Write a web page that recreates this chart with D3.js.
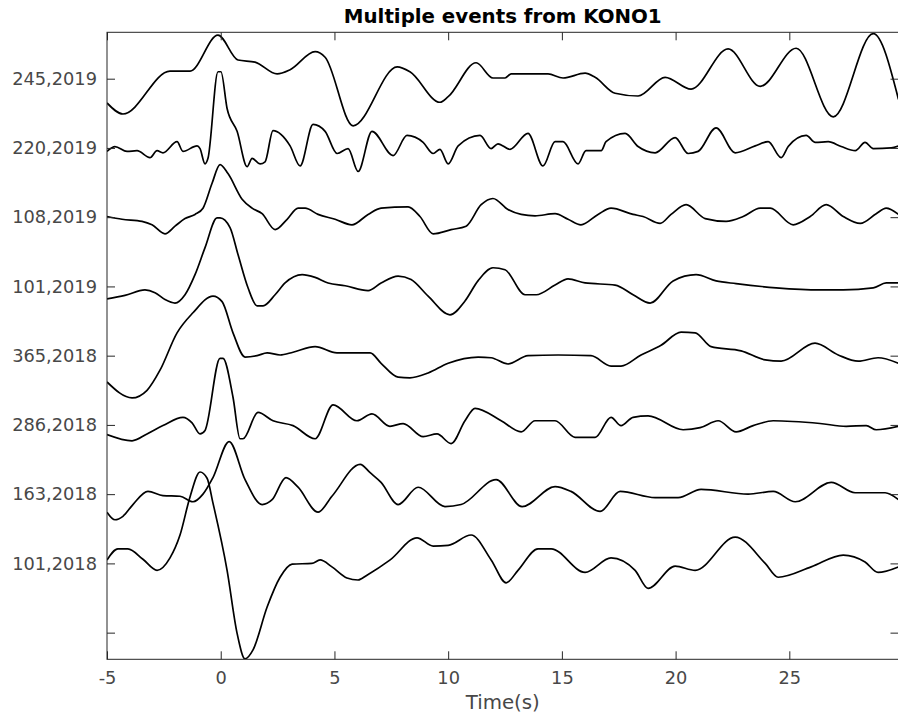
<!DOCTYPE html>
<html>
<head>
<meta charset="utf-8">
<script src="https://cdn.jsdelivr.net/npm/d3@7"></script>
<style>
  body { margin: 0; background: #fff; }
  svg { display: block; font-family: "DejaVu Sans", sans-serif; }
</style>
</head>
<body>
<div id="chart"></div>
<script>
// event labels, bottom to top (first tick has no label)
const eventLabels = ["", "101,2018", "163,2018", "286,2018", "365,2018", "101,2019", "108,2019", "220,2019", "245,2019"];
const tickPos = [1, 2, 3, 4, 5, 6, 7, 8, 9];
const xTicks = [-5, 0, 5, 10, 15, 20, 25];

// traces: [time (s), amplitude relative to its row]
const ev245_2019 = [[-5,-0.35],[-4.3,-0.51],[-2.23,0.11],[-1.35,0.11],[-0.12,0.63],[0.76,0.27],[1.51,0.24],[2.48,0.07],[3.05,0.13],[4.15,0.39],[4.59,0.31],[5.82,-0.68],[7.76,0.17],[8.32,0.1],[9.64,-0.34],[10,-0.26],[11.23,0.23],[11.97,0.01],[12.5,0.01],[12.77,0.07],[14.39,0.07],[15.05,0.01],[16.02,0.08],[16.46,0.02],[17.34,-0.21],[18.35,-0.25],[19.54,0.02],[20.68,-0.15],[22.31,0.43],[23.72,-0.11],[25.3,0.44],[26.93,-0.55],[28.69,0.65],[29.8,-0.3]];
const ev220_2019 = [[-5,-0.05],[-4.65,0.02],[-4.12,-0.05],[-3.68,-0.04],[-3.11,-0.14],[-2.8,-0.04],[-2.54,-0.07],[-1.92,0.09],[-1.66,-0.05],[-1.04,0.03],[-0.91,-0.01],[-0.69,-0.23],[-0.56,-0.15],[-0.12,1.1],[0.01,1.1],[0.28,0.57],[0.72,0.24],[1.16,-0.27],[1.38,-0.15],[1.73,-0.23],[1.95,-0.2],[2.3,0.25],[3.05,0.03],[3.49,-0.26],[4.06,0.34],[4.59,0.24],[5.12,-0.08],[5.6,-0.01],[6.04,-0.34],[6.65,0.24],[7.58,-0.11],[8.19,0.18],[8.9,0.08],[9.34,-0.08],[9.64,-0.02],[10,-0.23],[10.44,0.03],[11.4,0.18],[11.89,-0.01],[12.19,0.06],[12.72,-0.02],[13.51,0.21],[14.17,-0.26],[14.7,0.09],[15.05,0.09],[15.71,-0.23],[16.06,-0.04],[16.73,-0.04],[16.94,0.09],[17.78,0.21],[18.35,0.02],[19.1,-0.07],[19.98,0.15],[20.55,-0.08],[20.99,-0.05],[21.78,0.29],[22.62,-0.07],[23.5,0.03],[24.07,0.09],[24.64,-0.14],[24.95,0.02],[25.74,0.18],[26.14,0.08],[26.71,0.09],[27.28,0.02],[27.9,-0.04],[28.33,0.08],[28.69,-0.01],[29.48,0],[29.8,0.03]];
const ev108_2019 = [[-5,0.01],[-4.34,-0.03],[-3.46,-0.06],[-3.02,-0.11],[-2.45,-0.24],[-2.01,-0.13],[-1.57,-0.02],[-1.13,0.04],[-0.78,0.13],[-0.38,0.49],[-0.03,0.76],[0.32,0.63],[0.94,0.26],[1.38,0.13],[1.82,0.05],[2.39,-0.18],[2.92,-0.03],[3.4,0.13],[3.71,0.13],[4.28,0.04],[5.03,-0.03],[5.77,-0.11],[6.48,0.04],[7.05,0.13],[8.24,0.15],[8.76,0.01],[9.34,-0.24],[10.13,-0.18],[10.79,-0.13],[11.45,0.18],[11.97,0.27],[12.63,0.11],[13.21,0.04],[13.82,0.02],[14.7,0.05],[15.27,-0.03],[15.84,-0.11],[16.59,0.04],[17.16,0.13],[18.13,0.04],[18.57,0.01],[19.32,-0.09],[19.8,0.04],[20.46,0.18],[21.3,-0.02],[22.22,-0.06],[22.97,0.01],[23.72,0.13],[24.16,0.13],[25.17,-0.11],[25.92,0.01],[26.62,0.18],[27.37,0.01],[28.12,-0.09],[28.82,0.05],[29.26,0.13],[29.8,0.04]];
const ev101_2019 = [[-5,-0.18],[-4.21,-0.13],[-3.33,-0.05],[-2.89,-0.09],[-2.45,-0.19],[-2.01,-0.24],[-1.57,-0.12],[-1.13,0.17],[-0.69,0.56],[-0.16,0.99],[-0.03,0.99],[0.41,0.85],[0.76,0.46],[1.2,-0.02],[1.6,-0.28],[1.86,-0.28],[2.39,-0.12],[2.83,0.05],[3.58,0.17],[4.15,0.13],[4.72,0.05],[5.47,0.01],[6.48,-0.06],[7.05,0.05],[7.8,0.15],[8.37,0.1],[9.12,-0.14],[10.08,-0.41],[10.74,-0.21],[11.31,0.08],[11.97,0.27],[12.5,0.24],[13.38,-0.12],[13.87,-0.12],[14.7,0.02],[15.27,0.11],[16.02,0.05],[17.34,0.02],[18.13,-0.12],[18.88,-0.24],[19.89,0.08],[20.9,0.17],[21.78,0.08],[22.66,0.04],[24.42,-0.02],[26.35,-0.05],[27.37,-0.05],[28.69,-0.02],[29.26,0.05],[29.8,0.05]];
const ev365_2018 = [[-5,-0.38],[-3.9,-0.61],[-3.24,-0.5],[-2.67,-0.21],[-1.92,0.33],[-1.22,0.62],[-0.34,0.86],[0.06,0.78],[0.54,0.33],[1.07,-0.02],[1.6,0],[2.04,0.04],[2.61,0.01],[3.18,0.05],[4.15,0.13],[5.11,0.04],[5.99,0.04],[6.57,0.04],[7.05,-0.11],[7.8,-0.31],[8.32,-0.32],[9.12,-0.25],[10,-0.11],[11.32,-0.02],[11.89,-0.03],[12.63,-0.12],[13.51,0],[14.83,0.01],[16.28,0],[17.16,-0.15],[17.6,-0.15],[18.48,0.01],[19.36,0.15],[20.24,0.34],[20.86,0.33],[21.56,0.13],[22.88,0.07],[23.94,-0.06],[24.64,-0.08],[26.13,0.18],[27.15,0.01],[28.03,-0.08],[28.9,-0.03],[29.8,-0.11]];
const ev286_2018 = [[-5,-0.14],[-3.9,-0.23],[-3.24,-0.13],[-2.54,-0.01],[-1.66,0.11],[-1.26,0.03],[-0.91,-0.13],[-0.69,-0.08],[-0.03,0.96],[0.1,0.96],[0.54,0.4],[0.85,-0.2],[0.98,-0.2],[1.64,0.18],[2.3,0.06],[3.18,-0.01],[4.15,-0.2],[4.94,0.29],[5.99,0.06],[6.65,0.16],[7.44,-0.02],[8.02,0.02],[8.9,-0.17],[9.51,-0.13],[10.13,-0.27],[10.74,0.06],[11.18,0.24],[12.33,0.06],[13.21,-0.1],[13.82,0.06],[14.7,0.06],[15.58,-0.18],[16.46,-0.18],[17.16,0.11],[17.6,-0.01],[18.13,0.11],[18.79,0.13],[20.33,-0.07],[21.08,-0.04],[21.87,0.06],[22.66,-0.1],[23.41,-0.01],[24.29,0.06],[26.35,0.02],[27.5,-0.02],[28.38,-0.01],[28.82,-0.07],[29.8,-0.02]];
const ev163_2018 = [[-5,-0.26],[-4.65,-0.37],[-4.3,-0.32],[-3.86,-0.15],[-3.2,0.04],[-2.54,-0.02],[-1.79,-0.03],[-1.22,-0.11],[-0.78,0],[-0.34,0.24],[0.37,0.76],[1.07,0.21],[1.82,-0.15],[2.26,-0.08],[2.87,0.24],[3.4,0.1],[4.28,-0.26],[4.89,-0.03],[6.13,0.43],[6.57,0.31],[7.05,0.17],[7.8,-0.15],[8.68,0.1],[9.86,-0.18],[10.57,-0.15],[12.11,0.21],[13.25,-0.18],[14.7,0.11],[15.4,0.04],[16.68,-0.25],[17.56,0.04],[19.1,-0.05],[20.11,-0.05],[21.12,0.07],[23.19,0],[24.29,0.04],[25.26,-0.11],[26.84,0.17],[27.89,0.02],[29.21,0.02],[29.8,-0.08]];
const ev101_2018 = [[-5,0.05],[-4.52,0.21],[-4.08,0.21],[-3.42,0.06],[-2.8,-0.1],[-2.23,0.08],[-1.79,0.41],[-1.35,0.96],[-0.91,1.32],[-0.6,1.23],[-0.34,0.87],[0.28,-0.1],[0.72,-1.01],[1.07,-1.38],[1.42,-1.25],[2.04,-0.63],[2.61,-0.2],[3.14,-0.01],[4.01,0],[4.37,0.05],[4.89,-0.05],[5.55,-0.21],[6.04,-0.24],[6.43,-0.17],[7.45,0.05],[8.63,0.37],[9.34,0.25],[10,0.26],[11.01,0.41],[11.89,0.05],[12.55,-0.28],[13.07,-0.1],[13.95,0.21],[14.53,0.21],[16.02,-0.13],[17.16,0.08],[18.22,-0.1],[18.79,-0.36],[19.98,-0.04],[20.86,-0.1],[22.62,0.38],[23.94,0],[24.51,-0.2],[25.96,-0.05],[27.37,0.12],[28.33,0.02],[28.9,-0.13],[29.8,-0.05]];

const traces = [ev101_2018, ev163_2018, ev286_2018, ev365_2018, ev101_2019, ev108_2019, ev220_2019, ev245_2019];
const offsets = [2, 3, 4, 5, 6, 7, 8, 9];

//layout
const width = 898, height = 717;
const margin = {top: 32.3, right: 0, bottom: 57.7, left: 107};
const axisColor = "#262626";
const labelColor = "#484848";

const svg = d3.select("#chart").append("svg")
  .attr("width", width)
  .attr("height", height);

const x = d3.scaleLinear().domain([-5, 29.8]).range([margin.left, 898.5]);
const y = d3.scaleLinear().domain([0.615, 9.67]).range([height - margin.bottom, margin.top]);

svg.append("defs").append("clipPath").attr("id", "plotclip")
  .append("rect")
  .attr("x", x.range()[0]).attr("y", y.range()[1])
  .attr("width", x.range()[1] - x.range()[0])
  .attr("height", y.range()[0] - y.range()[1]);

//traces
const line = d3.line()
  .x(d => x(d[0]))
  .y(d => y(d[1]))
  .curve(d3.curveMonotoneX);

const traceGroup = svg.append("g").attr("clip-path", "url(#plotclip)");
traces.forEach(function(tr, i){
  traceGroup.append("path")
    .datum(tr.map(p => [p[0], p[1] + offsets[i]]))
    .attr("d", line)
    .attr("fill", "none")
    .attr("stroke", "#000")
    .attr("stroke-width", 1.7)
    .attr("stroke-linejoin", "round");
});

//axes
function styleAxis(g){
  g.select(".domain").remove();
  g.selectAll(".tick line").attr("stroke", axisColor);
  g.selectAll("text").attr("fill", labelColor).style("font-size", "17.8px").style("font-family", "DejaVu Sans");
}

svg.append("g")
  .attr("transform", `translate(0,${y.range()[0]})`)
  .call(d3.axisBottom(x).tickValues(xTicks).tickFormat(d => String(d)).tickSizeInner(-8).tickSizeOuter(0).tickPadding(12))
  .call(styleAxis);

svg.append("g")
  .attr("transform", `translate(0,${y.range()[1]})`)
  .call(d3.axisTop(x).tickValues(xTicks).tickFormat("").tickSizeInner(-8).tickSizeOuter(0))
  .call(styleAxis);

svg.append("g")
  .attr("transform", `translate(${x.range()[0]},0)`)
  .call(d3.axisLeft(y).tickValues(tickPos).tickFormat((d, i) => eventLabels[i]).tickSizeInner(-8).tickSizeOuter(0).tickPadding(10))
  .call(styleAxis);

svg.append("g")
  .attr("transform", `translate(${x.range()[1]},0)`)
  .call(d3.axisRight(y).tickValues(tickPos).tickFormat("").tickSizeInner(-8).tickSizeOuter(0))
  .call(styleAxis);

svg.append("rect")
  .attr("x", x.range()[0]).attr("y", y.range()[1])
  .attr("width", x.range()[1] - x.range()[0])
  .attr("height", y.range()[0] - y.range()[1])
  .attr("fill", "none")
  .attr("stroke", axisColor)
  .attr("stroke-width", 1);

//labels
svg.append("text")
  .attr("x", (x.range()[0] + x.range()[1]) / 2)
  .attr("y", 22.5)
  .attr("text-anchor", "middle")
  .style("font-size", "19.8px")
  .style("font-weight", "bold")
  .attr("fill", "#000")
  .text("Multiple events from KONO1");

svg.append("text")
  .attr("x", (x.range()[0] + x.range()[1]) / 2)
  .attr("y", 708.5)
  .attr("text-anchor", "middle")
  .style("font-size", "19.8px")
  .attr("fill", labelColor)
  .text("Time(s)");
</script>
</body>
</html>
